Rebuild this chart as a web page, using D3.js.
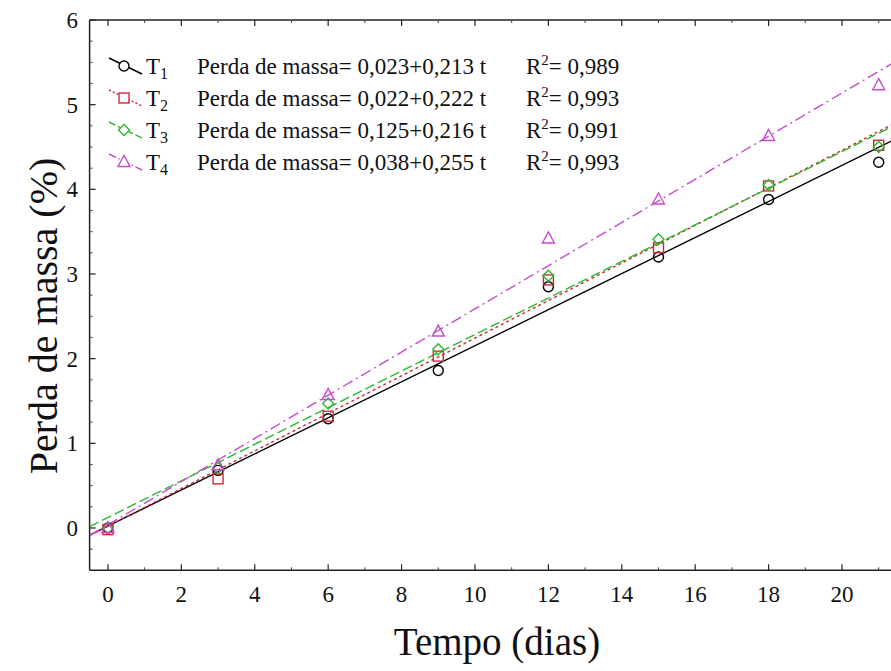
<!DOCTYPE html>
<html><head><meta charset="utf-8">
<script src="https://cdn.jsdelivr.net/npm/d3@7"></script>
<style>html,body{margin:0;padding:0;background:#fff;overflow:hidden}</style>
</head><body>
<svg id="c" width="891" height="671"></svg>
<script>
const days = [0, 3, 6, 9, 12, 15, 18, 21];
const t1 = [0.00, 0.68, 1.29, 1.86, 2.85, 3.20, 3.88, 4.32];
const t2 = [-0.02, 0.58, 1.32, 2.03, 2.93, 3.31, 4.04, 4.52];
const t3 = [0.00, 0.71, 1.47, 2.11, 2.98, 3.41, 4.05, 4.50];
const t4 = [0.00, 0.74, 1.57, 2.32, 3.42, 3.88, 4.63, 5.23];
const intercepts = [0.023, 0.022, 0.125, 0.038];
const slopes = [0.213, 0.222, 0.216, 0.255];
const r2 = ["0,989", "0,993", "0,991", "0,993"];
const names = ["1", "2", "3", "4"];
const eqText = ["0,023+0,213 t", "0,022+0,222 t", "0,125+0,216 t", "0,038+0,255 t"];
const xTicks = [0, 2, 4, 6, 8, 10, 12, 14, 16, 18, 20];
const yTicks = [0, 1, 2, 3, 4, 5, 6];

(function () {
const series = [t1, t2, t3, t4];
const colors = ["#000000", "#cc2a3a", "#2db82d", "#c84ad0"];
const dashes = [null, "3,3", "10,4", "11,4,2,4"];
const shapes = ["circle", "square", "diamond", "triangle"];

const svg = d3.select("#c");
const x = d3.scaleLinear().domain([-0.5, 22]).range([89.6, 108 + 22 * 36.7]);
const y = d3.scaleLinear().domain([-0.5, 6]).range([570.3, 20]);
const font = "'Liberation Serif', 'Times New Roman', serif";

svg.append("defs").append("clipPath").attr("id", "pc")
  .append("rect").attr("x", x(-0.5)).attr("y", y(6)).attr("width", 900).attr("height", y(-0.5) - y(6));

const pLeft = x(-0.5), pTop = y(6), pBot = y(-0.5);
const axisG = svg.append("g");
axisG.append("line").attr("x1", pLeft).attr("x2", 891).attr("y1", pBot).attr("y2", pBot).attr("stroke", "#222").attr("stroke-width", 1.5);
axisG.append("line").attr("x1", pLeft).attr("x2", 891).attr("y1", pTop).attr("y2", pTop).attr("stroke", "#222").attr("stroke-width", 1.5);
axisG.append("line").attr("x1", pLeft).attr("x2", pLeft).attr("y1", pTop).attr("y2", pBot).attr("stroke", "#222").attr("stroke-width", 1.5);

const xMinor = d3.range(0, 22, 1).filter(v => v % 2 === 1);
const yMinor = d3.range(-0.25, 6, 0.25).filter(v => Math.abs(v - Math.round(v)) > 0.01);

xTicks.forEach(v => {
  [[pBot, -6], [pTop, 6]].forEach(([yy, d]) =>
    axisG.append("line").attr("x1", x(v)).attr("x2", x(v)).attr("y1", yy).attr("y2", yy + d).attr("stroke", "#222").attr("stroke-width", 1.2));
});
xMinor.forEach(v => {
  [[pBot, -3], [pTop, 3]].forEach(([yy, d]) =>
    axisG.append("line").attr("x1", x(v)).attr("x2", x(v)).attr("y1", yy).attr("y2", yy + d).attr("stroke", "#444").attr("stroke-width", 1));
});
yTicks.forEach(v => {
  axisG.append("line").attr("x1", pLeft).attr("x2", pLeft + 6).attr("y1", y(v)).attr("y2", y(v)).attr("stroke", "#222").attr("stroke-width", 1.2);
});
yMinor.forEach(v => {
  axisG.append("line").attr("x1", pLeft).attr("x2", pLeft + 3).attr("y1", y(v)).attr("y2", y(v)).attr("stroke", "#444").attr("stroke-width", 1);
});

svg.append("g").selectAll("text").data(xTicks).join("text")
  .attr("x", d => x(d)).attr("y", 602).attr("text-anchor", "middle")
  .attr("font-family", font).attr("font-size", 23).attr("fill", "#111").text(d => d);
svg.append("g").selectAll("text").data(yTicks).join("text")
  .attr("x", 78).attr("y", d => y(d) + 8).attr("text-anchor", "end")
  .attr("font-family", font).attr("font-size", 23).attr("fill", "#111").text(d => d);

svg.append("text").attr("x", 497).attr("y", 655).attr("text-anchor", "middle")
  .attr("font-family", font).attr("font-size", 39).attr("fill", "#111").text("Tempo (dias)");
svg.append("text").attr("transform", "translate(57,316) rotate(-90)").attr("text-anchor", "middle")
  .attr("font-family", font).attr("font-size", 40).attr("fill", "#111").text("Perda de massa (%)");

const plot = svg.append("g").attr("clip-path", "url(#pc)");
series.forEach((s, i) => {
  const xs = [-0.5, 22];
  plot.append("path")
    .attr("d", d3.line()(xs.map(t => [x(t), y(intercepts[i] + slopes[i] * t)])))
    .attr("fill", "none").attr("stroke", colors[i]).attr("stroke-width", 1.4)
    .attr("stroke-dasharray", dashes[i]);
});

function marker(g, shape, cx, cy) {
  if (shape === "circle") g.append("circle").attr("cx", cx).attr("cy", cy).attr("r", 5);
  else if (shape === "square") g.append("rect").attr("x", cx - 5).attr("y", cy - 5).attr("width", 10).attr("height", 10);
  else if (shape === "diamond") g.append("path").attr("d", `M${cx},${cy-5.5}L${cx+5.5},${cy}L${cx},${cy+5.5}L${cx-5.5},${cy}Z`);
  else g.append("path").attr("d", `M${cx},${cy-6.5}L${cx+6},${cy+4.5}L${cx-6},${cy+4.5}Z`);
}
series.forEach((s, i) => {
  const g = plot.append("g").attr("fill", "none").attr("stroke", colors[i]).attr("stroke-width", 1.4);
  s.forEach((v, j) => marker(g, shapes[i], x(days[j]), y(v)));
});

const rows = [67, 99, 131, 163];
series.forEach((s, i) => {
  const cy = rows[i];
  const g = svg.append("g");
  g.append("line").attr("x1", 109).attr("y1", cy - 9).attr("x2", 142).attr("y2", cy + 7)
    .attr("stroke", colors[i]).attr("stroke-width", 1.4).attr("stroke-dasharray", dashes[i] ? dashes[i].split(",").map(d => d * 0.7).join(",") : null);
  const mg = g.append("g").attr("fill", "#fff").attr("stroke", colors[i]).attr("stroke-width", 1.4);
  marker(mg, shapes[i], 124, cy - 1);
  const t = g.append("text").attr("x", 146).attr("y", cy + 7).attr("font-family", font).attr("font-size", 23).attr("fill", "#111");
  t.append("tspan").text("T");
  t.append("tspan").attr("dy", 5).attr("font-size", 16).text(names[i]);
  g.append("text").attr("x", 197).attr("y", cy + 7).attr("font-family", font).attr("font-size", 23).attr("fill", "#111")
    .text("Perda de massa= " + eqText[i]);
  const r = g.append("text").attr("x", 526).attr("y", cy + 7).attr("font-family", font).attr("font-size", 23).attr("fill", "#111");
  r.append("tspan").text("R");
  r.append("tspan").attr("dy", -9).attr("font-size", 15).text("2");
  r.append("tspan").attr("dy", 9).text("= " + r2[i]);
});
})();
</script>
</body></html>
